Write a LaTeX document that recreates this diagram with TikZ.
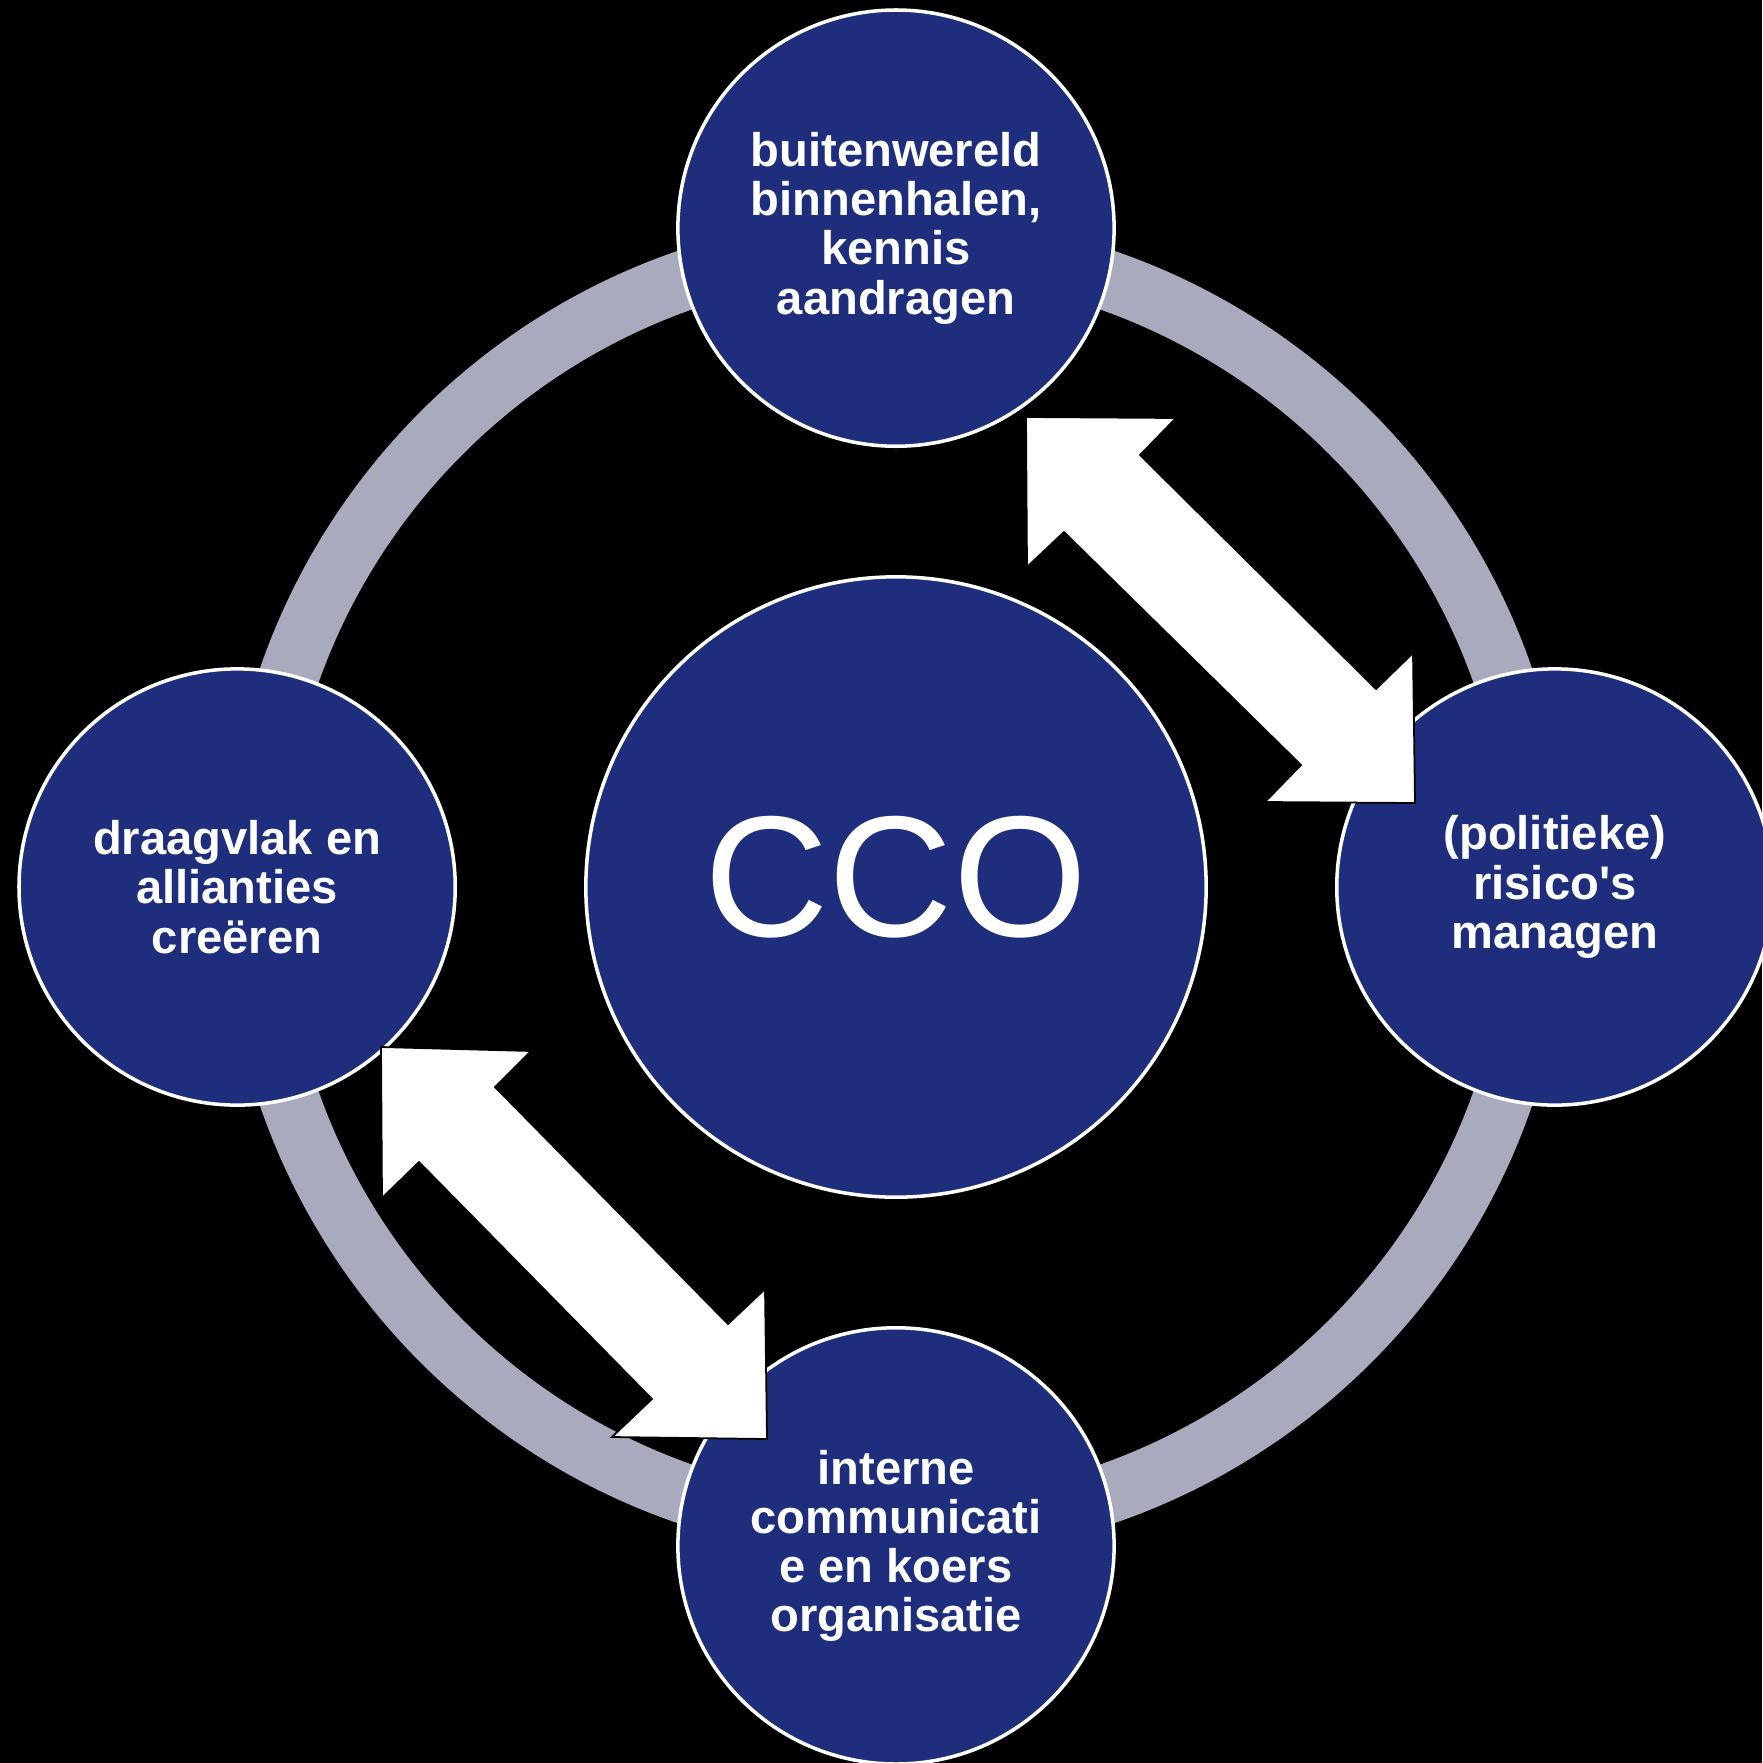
\documentclass[tikz,border=0pt]{standalone}
\usepackage{fontspec}
\setmainfont{Liberation Sans}
\usetikzlibrary{positioning}
\definecolor{ccoblue}{RGB}{30,46,125}
\definecolor{ringgrey}{RGB}{169,170,189}
\tikzset{
	topic/.style={draw=white, line width=1pt, circle, fill=ccoblue, minimum size=4.36cm, inner sep=0pt, text=white, align=center, font=\bfseries\fontsize{13.4}{14}\selectfont},
	core/.style={draw=white, line width=1pt, circle, fill=ccoblue, minimum size=6.2cm, inner sep=0pt, text=white, text depth=6pt, font=\fontsize{49}{55}\selectfont},
	% white double arrows between two outer circles
	link/.style={draw=black, line width=0.5pt, fill=white, line join=miter},
}

\begin{document}
\begin{tikzpicture}[x=0.01cm, y=-0.01cm, node distance=6.585cm]
	\fill[black] (0,0) rectangle (1762,1763);
	\useasboundingbox (0,0) rectangle (1762,1763);
	
	\coordinate (mid) at (896,887);
	\draw[ringgrey, line width=0.6cm] (mid) circle[radius=6.42cm];
	
	\node (cco) [core] at (mid) {CCO};
	\node (buiten) [topic, above of=cco] {buitenwereld\\binnenhalen,\\kennis\\aandragen};
	\node (risico) [topic, right of=cco] {(politieke)\\risico\textquotesingle s\\managen};
	\node (intern) [topic, below of=cco] {interne\\communicati\\e en koers\\organisatie};
	\node (draagvlak) [topic, left of=cco] {draagvlak en\\allianties\\creëren};
	
	\coordinate (a1) at (1026,417);
	\coordinate (a2) at (381,1047);
	\draw[link] (a1) -- ++(150,1) -- ++(-36,37) -- ++(236,234) -- ++(37,-36) -- ++(2,150) -- ++(-150,-1) -- ++(36,-37) -- ++(-237,-233) -- ++(-37,35) -- cycle;
	\draw[link] (a2) -- ++(150,4) -- ++(-36,36) -- ++(233,237) -- ++(37,-35) -- ++(2,150) -- ++(-155,-2) -- ++(40,-38) -- ++(-233,-237) -- ++(-37,36) -- cycle;
\end{tikzpicture}
\end{document}
